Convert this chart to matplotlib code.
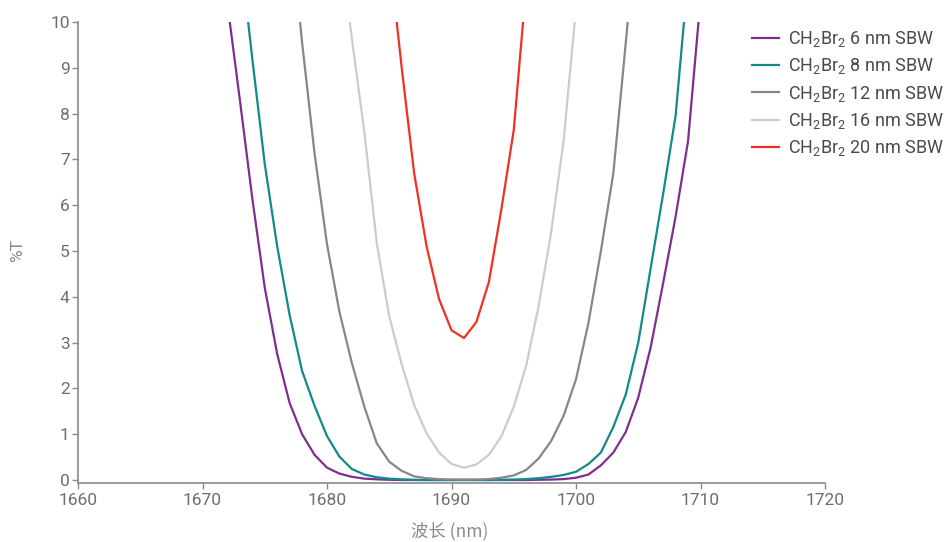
import numpy as np
import matplotlib
matplotlib.use("Agg")
import matplotlib.pyplot as plt

plt.rcParams['font.family'] = ['Roboto', 'Noto Sans CJK SC', 'DejaVu Sans']
plt.rcParams['mathtext.default'] = 'regular'

# Data (wavelength in nm, %T)
wl_6 = list(range(1671, 1712))
t_6 = [13.0, 10.4, 8.3, 6.15, 4.2, 2.75, 1.68, 1.0, 0.55, 0.27, 0.14, 0.07, 0.03, 0.015, 0.005,
       0.0, 0.0, 0.0, 0.0, 0.0, 0.0, 0.0, 0.0, 0.0, 0.0, 0.0, 0.005, 0.01, 0.02, 0.05,
       0.12, 0.32, 0.6, 1.05, 1.8, 2.9, 4.3, 5.75, 7.4, 10.5, 13.5]

wl_8 = list(range(1673, 1710))
t_8 = [11.6, 9.2, 6.9, 5.1, 3.6, 2.38, 1.62, 0.96, 0.51, 0.24, 0.12, 0.06, 0.03, 0.015, 0.005,
       0.0, 0.0, 0.0, 0.0, 0.0, 0.0, 0.005, 0.01, 0.02, 0.04, 0.07, 0.11, 0.18, 0.35, 0.6,
       1.16, 1.87, 3.0, 4.63, 6.25, 7.95, 11.0]

wl_12 = list(range(1677, 1706))
t_12 = [12.3, 9.55, 7.13, 5.15, 3.67, 2.55, 1.6, 0.8, 0.4, 0.2, 0.08, 0.04, 0.02, 0.01, 0.01,
        0.01, 0.02, 0.05, 0.1, 0.22, 0.47, 0.85, 1.4, 2.2, 3.43, 5.0, 6.7, 9.55, 12.5]

wl_16 = list(range(1681, 1702))
t_16 = [11.8, 9.63, 7.6, 5.17, 3.57, 2.53, 1.64, 1.02, 0.6, 0.35, 0.27, 0.34, 0.55, 0.95,
        1.6, 2.5, 3.8, 5.4, 7.4, 10.3, 13.0]

wl_20 = list(range(1685, 1697))
t_20 = [11.5, 9.0, 6.7, 5.1, 3.95, 3.27, 3.1, 3.45, 4.32, 5.9, 7.64, 10.8]

labels = ['CH$_2$Br$_2$ 6 nm SBW', 'CH$_2$Br$_2$ 8 nm SBW', 'CH$_2$Br$_2$ 12 nm SBW',
          'CH$_2$Br$_2$ 16 nm SBW', 'CH$_2$Br$_2$ 20 nm SBW']
colors = ['#7e2f8e', '#12898a', '#878787', '#cccccc', '#ee3124']

axis_col = '#8a8a8a'
text_col = '#6e6e6e'

fig = plt.figure(figsize=(9.51, 5.42), dpi=100)
ax = fig.add_axes([78 / 951, 1 - 483 / 542, (825 - 78) / 951, (483 - 22) / 542])

series = [(wl_6, t_6), (wl_8, t_8), (wl_12, t_12), (wl_16, t_16), (wl_20, t_20)]
for (x, y), lab, c in zip(series, labels, colors):
    ax.plot(x, y, color=c, lw=1.6, label=lab)

ax.set_xlim(1660, 1720)
ax.set_ylim(-0.065, 10)
ax.set_xticks(np.arange(1660, 1721, 10))
ax.set_yticks(np.arange(0, 11, 1))

for s in ['top', 'right']:
    ax.spines[s].set_visible(False)
for s in ['left', 'bottom']:
    ax.spines[s].set_color(axis_col)
    ax.spines[s].set_linewidth(1.2)
ax.tick_params(colors=axis_col, labelcolor=text_col, labelsize=12.5, length=4, width=1)
ax.tick_params(axis='x', pad=3)
ax.tick_params(axis='y', pad=2)

fig.text(18 / 951, 1 - 250 / 542, '%T', rotation=90, ha='center', va='center',
         color='#8a8a8a', fontsize=12.5)
fig.text(450 / 951, 1 - 531 / 542, '波长 (nm)', ha='center', va='center',
         color='#8a8a8a', fontsize=12.5, family=['Noto Sans CJK SC', 'DejaVu Sans'])

fig.legend(loc='upper left', bbox_to_anchor=(745 / 951, 1 - 22 / 542), frameon=False,
           fontsize=13, labelcolor='#4a4a4a', handlelength=1.5, handletextpad=0.5,
           labelspacing=0.4, borderaxespad=0)

fig.savefig('out.png', dpi=100)
